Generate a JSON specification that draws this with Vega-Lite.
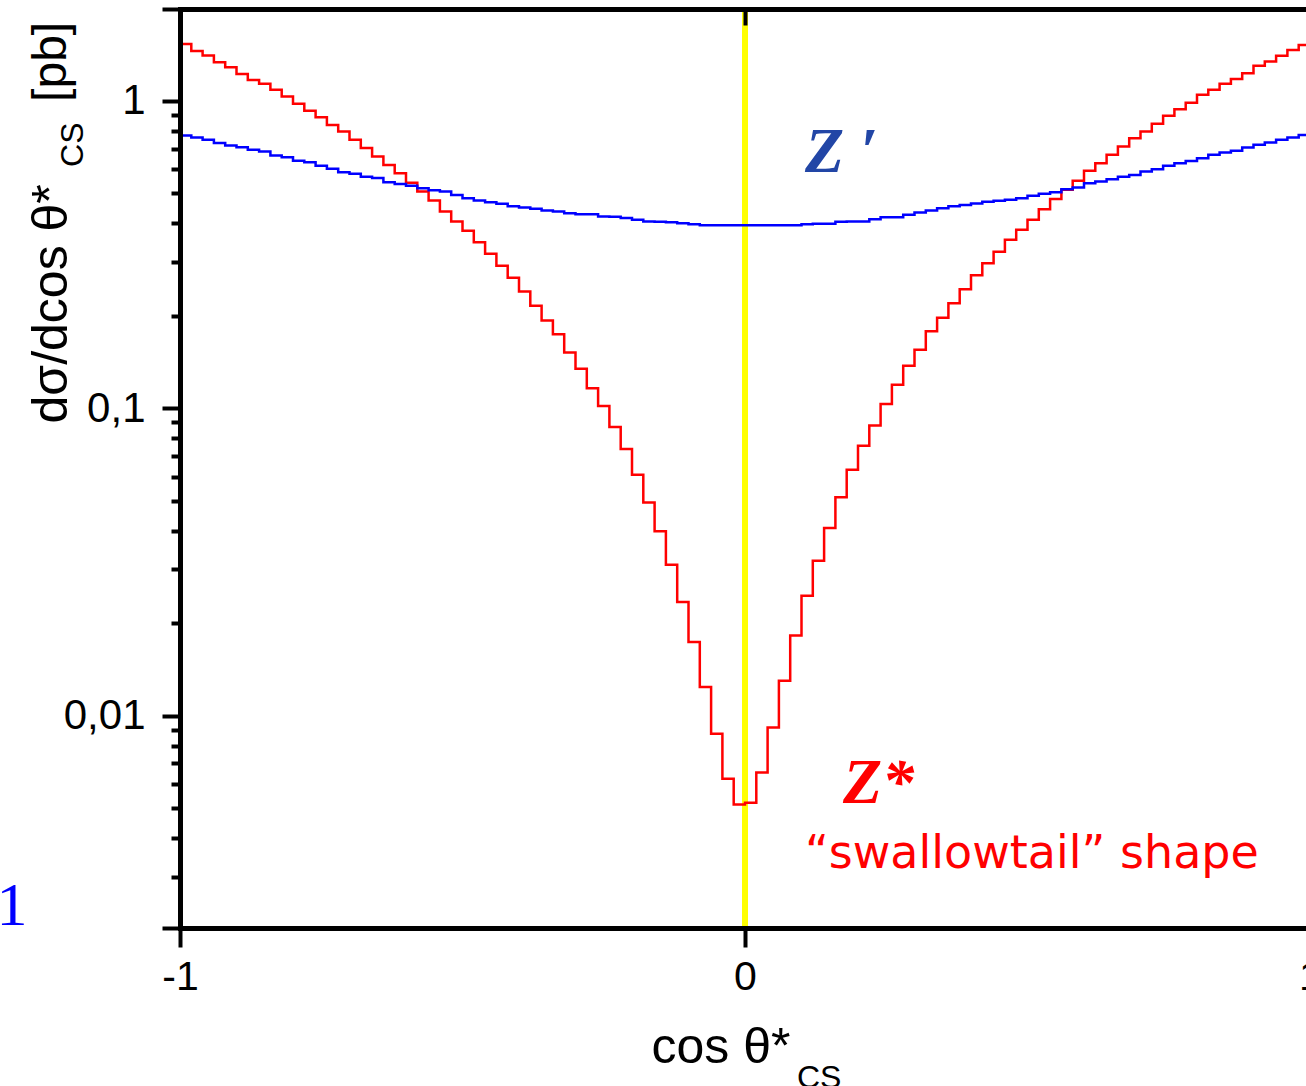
{
  "$schema": "https://vega.github.io/schema/vega-lite/v6.json",
  "width": 1126,
  "height": 919,
  "autosize": "none",
  "padding": {"left": 180, "top": 9, "right": 0, "bottom": 158},
  "background": "white",
  "config": {"view": {"stroke": null}, "axis": {"grid": false}},
  "data": {"values": [
    {"edge": -1.00, "zstar": 1.53, "zprime": 0.771},
    {"edge": -0.98, "zstar": 1.454, "zprime": 0.760},
    {"edge": -0.96, "zstar": 1.404, "zprime": 0.747},
    {"edge": -0.94, "zstar": 1.336, "zprime": 0.729},
    {"edge": -0.92, "zstar": 1.287, "zprime": 0.716},
    {"edge": -0.90, "zstar": 1.224, "zprime": 0.707},
    {"edge": -0.88, "zstar": 1.170, "zprime": 0.693},
    {"edge": -0.86, "zstar": 1.136, "zprime": 0.684},
    {"edge": -0.84, "zstar": 1.086, "zprime": 0.664},
    {"edge": -0.82, "zstar": 1.033, "zprime": 0.656},
    {"edge": -0.80, "zstar": 0.978, "zprime": 0.639},
    {"edge": -0.78, "zstar": 0.928, "zprime": 0.632},
    {"edge": -0.76, "zstar": 0.885, "zprime": 0.615},
    {"edge": -0.74, "zstar": 0.835, "zprime": 0.601},
    {"edge": -0.72, "zstar": 0.795, "zprime": 0.586},
    {"edge": -0.70, "zstar": 0.747, "zprime": 0.579},
    {"edge": -0.68, "zstar": 0.702, "zprime": 0.567},
    {"edge": -0.66, "zstar": 0.659, "zprime": 0.561},
    {"edge": -0.64, "zstar": 0.619, "zprime": 0.544},
    {"edge": -0.62, "zstar": 0.582, "zprime": 0.537},
    {"edge": -0.60, "zstar": 0.542, "zprime": 0.530},
    {"edge": -0.58, "zstar": 0.507, "zprime": 0.520},
    {"edge": -0.56, "zstar": 0.474, "zprime": 0.5116},
    {"edge": -0.54, "zstar": 0.4365, "zprime": 0.507},
    {"edge": -0.52, "zstar": 0.405, "zprime": 0.4946},
    {"edge": -0.50, "zstar": 0.378, "zprime": 0.4826},
    {"edge": -0.48, "zstar": 0.347, "zprime": 0.474},
    {"edge": -0.46, "zstar": 0.318, "zprime": 0.4684},
    {"edge": -0.44, "zstar": 0.291, "zprime": 0.4624},
    {"edge": -0.42, "zstar": 0.266, "zprime": 0.4545},
    {"edge": -0.40, "zstar": 0.240, "zprime": 0.4504},
    {"edge": -0.38, "zstar": 0.2154, "zprime": 0.4454},
    {"edge": -0.36, "zstar": 0.193, "zprime": 0.4398},
    {"edge": -0.34, "zstar": 0.1743, "zprime": 0.4365},
    {"edge": -0.32, "zstar": 0.1519, "zprime": 0.4313},
    {"edge": -0.30, "zstar": 0.1344, "zprime": 0.428},
    {"edge": -0.28, "zstar": 0.1163, "zprime": 0.4277},
    {"edge": -0.26, "zstar": 0.1017, "zprime": 0.4207},
    {"edge": -0.24, "zstar": 0.0869, "zprime": 0.4198},
    {"edge": -0.22, "zstar": 0.0737, "zprime": 0.4157},
    {"edge": -0.20, "zstar": 0.0608, "zprime": 0.4102},
    {"edge": -0.18, "zstar": 0.0494, "zprime": 0.405},
    {"edge": -0.16, "zstar": 0.0398, "zprime": 0.4041},
    {"edge": -0.14, "zstar": 0.0310, "zprime": 0.4026},
    {"edge": -0.12, "zstar": 0.02343, "zprime": 0.3996},
    {"edge": -0.10, "zstar": 0.01737, "zprime": 0.3966},
    {"edge": -0.08, "zstar": 0.0124, "zprime": 0.3936},
    {"edge": -0.06, "zstar": 0.00874, "zprime": 0.3936},
    {"edge": -0.04, "zstar": 0.00624, "zprime": 0.3936},
    {"edge": -0.02, "zstar": 0.00514, "zprime": 0.3936},
    {"edge": 0.00, "zstar": 0.00521, "zprime": 0.3936},
    {"edge": 0.02, "zstar": 0.00654, "zprime": 0.3936},
    {"edge": 0.04, "zstar": 0.00916, "zprime": 0.3936},
    {"edge": 0.06, "zstar": 0.0130, "zprime": 0.3936},
    {"edge": 0.08, "zstar": 0.01825, "zprime": 0.3936},
    {"edge": 0.10, "zstar": 0.02457, "zprime": 0.3966},
    {"edge": 0.12, "zstar": 0.0319, "zprime": 0.3981},
    {"edge": 0.14, "zstar": 0.0408, "zprime": 0.3981},
    {"edge": 0.16, "zstar": 0.0514, "zprime": 0.4041},
    {"edge": 0.18, "zstar": 0.0631, "zprime": 0.405},
    {"edge": 0.20, "zstar": 0.0755, "zprime": 0.405},
    {"edge": 0.22, "zstar": 0.0879, "zprime": 0.4124},
    {"edge": 0.24, "zstar": 0.1032, "zprime": 0.4184},
    {"edge": 0.26, "zstar": 0.1192, "zprime": 0.4184},
    {"edge": 0.28, "zstar": 0.1375, "zprime": 0.426},
    {"edge": 0.30, "zstar": 0.155, "zprime": 0.4332},
    {"edge": 0.32, "zstar": 0.178, "zprime": 0.4398},
    {"edge": 0.34, "zstar": 0.197, "zprime": 0.4477},
    {"edge": 0.36, "zstar": 0.2196, "zprime": 0.4538},
    {"edge": 0.38, "zstar": 0.2438, "zprime": 0.4589},
    {"edge": 0.40, "zstar": 0.2707, "zprime": 0.4641},
    {"edge": 0.42, "zstar": 0.2962, "zprime": 0.4694},
    {"edge": 0.44, "zstar": 0.3228, "zprime": 0.473},
    {"edge": 0.46, "zstar": 0.3532, "zprime": 0.4766},
    {"edge": 0.48, "zstar": 0.3806, "zprime": 0.4826},
    {"edge": 0.50, "zstar": 0.4102, "zprime": 0.491},
    {"edge": 0.52, "zstar": 0.4444, "zprime": 0.4984},
    {"edge": 0.54, "zstar": 0.480, "zprime": 0.5048},
    {"edge": 0.56, "zstar": 0.5136, "zprime": 0.5163},
    {"edge": 0.58, "zstar": 0.5494, "zprime": 0.5224},
    {"edge": 0.60, "zstar": 0.5922, "zprime": 0.540},
    {"edge": 0.62, "zstar": 0.627, "zprime": 0.5465},
    {"edge": 0.64, "zstar": 0.6675, "zprime": 0.5564},
    {"edge": 0.66, "zstar": 0.710, "zprime": 0.567},
    {"edge": 0.68, "zstar": 0.756, "zprime": 0.5745},
    {"edge": 0.70, "zstar": 0.795, "zprime": 0.5889},
    {"edge": 0.72, "zstar": 0.842, "zprime": 0.5996},
    {"edge": 0.74, "zstar": 0.894, "zprime": 0.615},
    {"edge": 0.76, "zstar": 0.940, "zprime": 0.627},
    {"edge": 0.78, "zstar": 0.987, "zprime": 0.638},
    {"edge": 0.80, "zstar": 1.046, "zprime": 0.651},
    {"edge": 0.82, "zstar": 1.086, "zprime": 0.6675},
    {"edge": 0.84, "zstar": 1.136, "zprime": 0.679},
    {"edge": 0.86, "zstar": 1.179, "zprime": 0.688},
    {"edge": 0.88, "zstar": 1.230, "zprime": 0.705},
    {"edge": 0.90, "zstar": 1.300, "zprime": 0.7194},
    {"edge": 0.92, "zstar": 1.342, "zprime": 0.732},
    {"edge": 0.94, "zstar": 1.401, "zprime": 0.747},
    {"edge": 0.96, "zstar": 1.465, "zprime": 0.760},
    {"edge": 0.98, "zstar": 1.521, "zprime": 0.775},
    {"edge": 1.00, "zstar": 1.521, "zprime": 0.775}
  ]},
  "layer": [
    {
      "data": {"values": [{}]},
      "mark": {"type": "rule", "color": "#ffff00", "strokeWidth": 6},
      "encoding": {
        "x": {"datum": 0, "type": "quantitative", "axis": null}
      }
    },
    {
      "mark": {"type": "line", "color": "#ff0000", "strokeWidth": 2.5, "interpolate": "step-after"},
      "encoding": {
        "x": {"field": "edge", "type": "quantitative",
          "scale": {"domain": [-1, 1], "range": [0, 1130], "nice": false, "zero": false},
          "axis": {"orient": "bottom", "values": [-1, 0, 1], "tickSize": 19, "tickWidth": 4, "tickColor": "black",
            "domainWidth": 5, "domainColor": "black", "domainCap": "square",
            "labelFont": "Liberation Sans", "labelFontSize": 41, "labelColor": "black", "labelPadding": 10, "labelFlush": false,
            "labelExpr": "datum.value == 0 ? '0' : datum.value < 0 ? '-1' : '1'",
            "title": "cos θ*", "titleFont": "Liberation Sans", "titleFontSize": 50, "titleFontWeight": "normal", "titleColor": "black",
            "titleX": 471, "titleY": 134, "titleAlign": "left", "titleBaseline": "alphabetic", "titleAnchor": null, "zindex": 2}},
        "y": {"field": "zstar", "type": "quantitative",
          "scale": {"type": "log", "domain": [0.00204, 1.99], "nice": false},
          "axis": {"orient": "left",
            "values": [0.00204, 0.003, 0.004, 0.005, 0.006, 0.007, 0.008, 0.009, 0.01, 0.02, 0.03, 0.04, 0.05, 0.06, 0.07, 0.08, 0.09, 0.1, 0.2, 0.3, 0.4, 0.5, 0.6, 0.7, 0.8, 0.9, 1, 1.99],
            "tickSize": {"condition": {"test": "datum.value == 1 || datum.value == 0.1 || datum.value == 0.01 || datum.value < 0.0021 || datum.value > 1.9", "value": 18}, "value": 9},
            "tickWidth": 4, "tickColor": "black",
            "domainWidth": 5, "domainColor": "black", "domainCap": "square",
            "labelFont": "Liberation Sans", "labelFontSize": 42, "labelColor": "black", "labelPadding": 17,
            "labelExpr": "datum.value == 1 ? '1' : datum.value == 0.1 ? '0,1' : datum.value == 0.01 ? '0,01' : ''",
            "title": "dσ/dcos θ*", "titleFont": "Liberation Sans", "titleFontSize": 50, "titleFontWeight": "normal", "titleColor": "black",
            "titleAngle": 270, "titleX": -114, "titleY": 414, "titleAlign": "left", "titleBaseline": "alphabetic", "titleAnchor": null, "zindex": 2}}
      }
    },
    {
      "mark": {"type": "line", "color": "#0000ff", "strokeWidth": 2.5, "interpolate": "step-after"},
      "encoding": {
        "x": {"field": "edge", "type": "quantitative",
          "axis": {"orient": "top", "values": [-1, 0, 1], "tickSize": -16, "tickWidth": 4, "tickColor": "black",
            "domainWidth": 5, "domainColor": "black", "domainCap": "square", "labels": false, "title": null, "zindex": 2}},
        "y": {"field": "zprime", "type": "quantitative", "axis": null}
      }
    },
    {
      "data": {"values": [{}]},
      "mark": {"type": "text", "text": "Z ′", "font": "Liberation Serif", "fontSize": 64, "fontWeight": "bold", "fontStyle": "italic", "color": "#2246a6", "align": "left", "baseline": "alphabetic"},
      "encoding": {"x": {"datum": 0.106, "type": "quantitative", "axis": null}, "y": {"datum": 0.5876, "type": "quantitative", "axis": null}}
    },
    {
      "data": {"values": [{}]},
      "mark": {"type": "text", "text": "Z*", "font": "Liberation Serif", "fontSize": 64, "fontWeight": "bold", "fontStyle": "italic", "color": "#ff0000", "align": "left", "baseline": "alphabetic"},
      "encoding": {"x": {"datum": 0.1735, "type": "quantitative", "axis": null}, "y": {"datum": 0.00521, "type": "quantitative", "axis": null}}
    },
    {
      "data": {"values": [{}]},
      "mark": {"type": "text", "text": "“swallowtail” shape", "font": "DejaVu Sans", "fontSize": 46, "color": "#ff0000", "align": "left", "baseline": "alphabetic"},
      "encoding": {"x": {"datum": 0.106, "type": "quantitative", "axis": null}, "y": {"datum": 0.0032, "type": "quantitative", "axis": null}}
    },
    {
      "data": {"values": [{}]},
      "mark": {"type": "text", "text": "1", "font": "Liberation Serif", "fontSize": 62, "color": "#0000ff", "align": "left", "baseline": "alphabetic"},
      "encoding": {"x": {"datum": -1.325, "type": "quantitative", "axis": null}, "y": {"datum": 0.00209, "type": "quantitative", "axis": null}}
    },
    {
      "data": {"values": [{}]},
      "mark": {"type": "text", "text": "CS", "font": "Liberation Sans", "fontSize": 32, "color": "black", "align": "left", "baseline": "alphabetic"},
      "encoding": {"x": {"datum": 0.092, "type": "quantitative", "axis": null}, "y": {"datum": 0.000617, "type": "quantitative", "axis": null}}
    },
    {
      "data": {"values": [{}]},
      "mark": {"type": "text", "text": "CS", "font": "Liberation Sans", "fontSize": 32, "color": "black", "align": "left", "baseline": "alphabetic", "angle": 270},
      "encoding": {"x": {"datum": -1.1717, "type": "quantitative", "axis": null}, "y": {"datum": 0.610, "type": "quantitative", "axis": null}}
    },
    {
      "data": {"values": [{}]},
      "mark": {"type": "text", "text": "[pb]", "font": "Liberation Sans", "fontSize": 48, "color": "black", "align": "left", "baseline": "alphabetic", "angle": 270},
      "encoding": {"x": {"datum": -1.2018, "type": "quantitative", "axis": null}, "y": {"datum": 0.9925, "type": "quantitative", "axis": null}}
    }
  ],
  "resolve": {"axis": {"x": "independent", "y": "independent"}}
}
